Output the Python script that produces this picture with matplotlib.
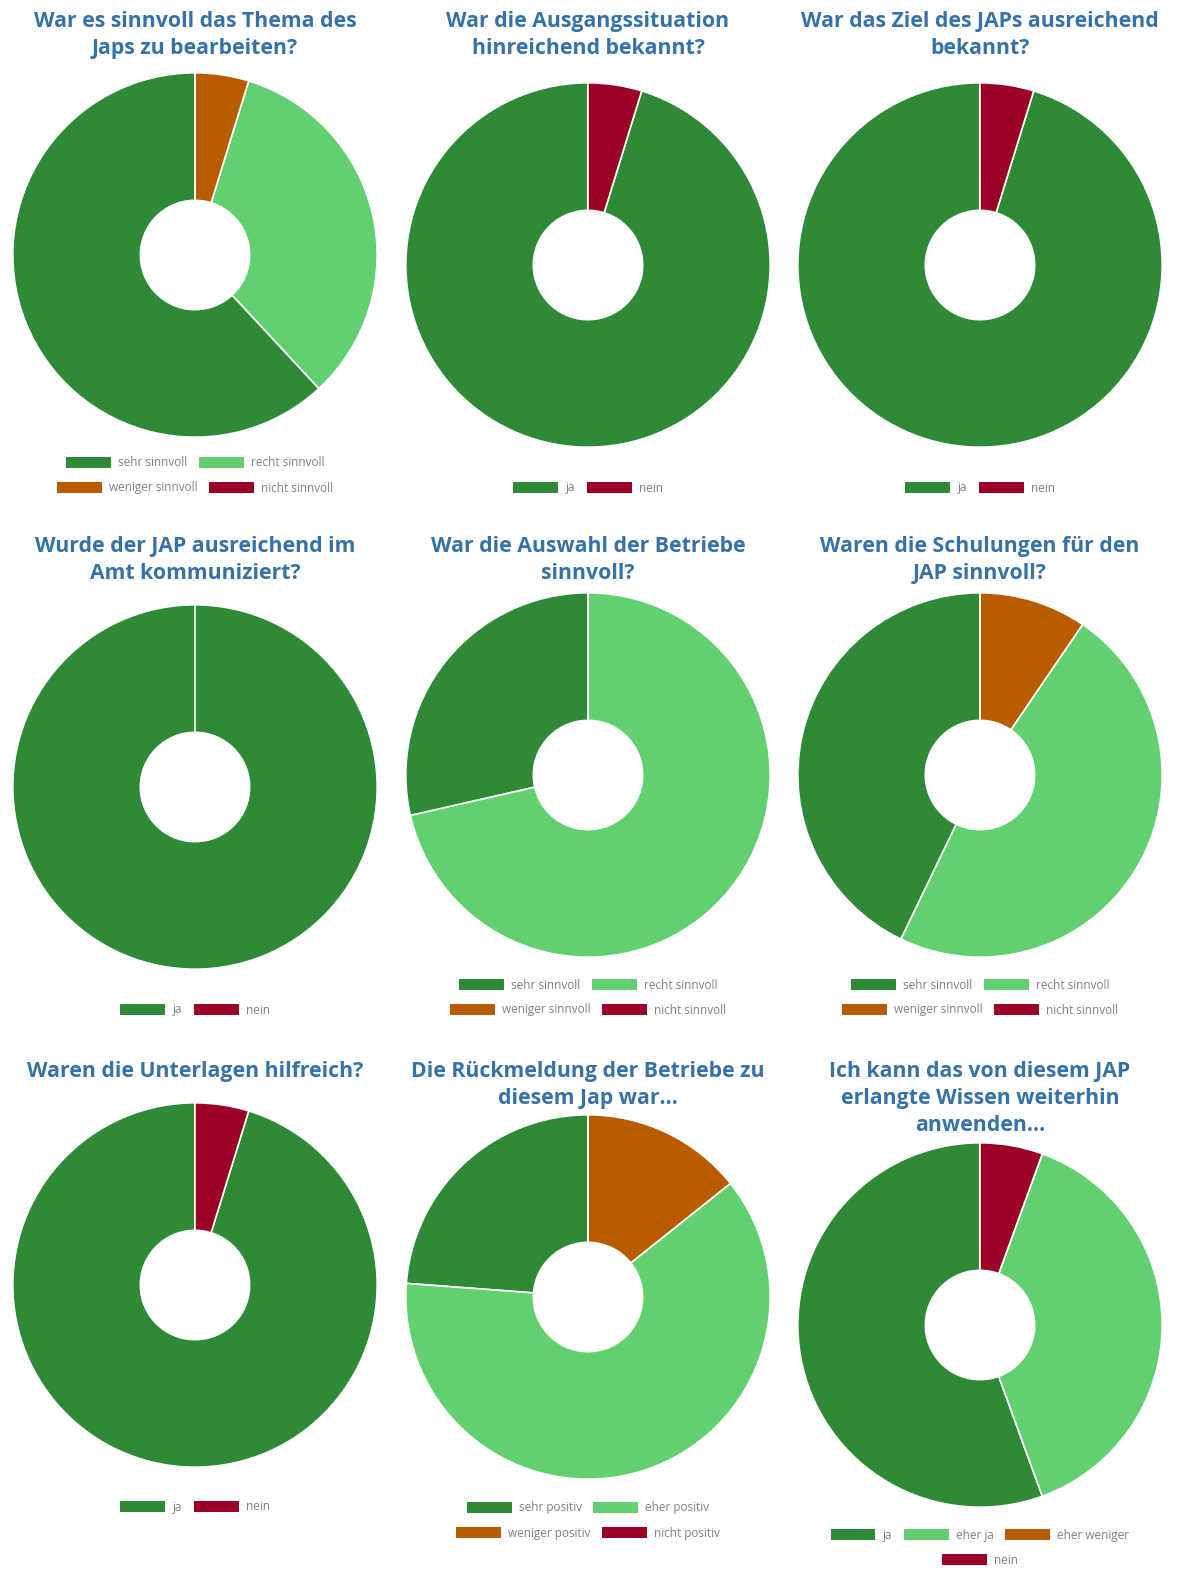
import matplotlib.pyplot as plt
from matplotlib.patches import Patch

# colours used in the survey charts
DARK = '#2f8a37'
LIGHT = '#62cf70'
ORANGE = '#b95c00'
RED = '#9b0026'

titles = [
    'War es sinnvoll das Thema des\nJaps zu bearbeiten?',
    'War die Ausgangssituation\nhinreichend bekannt?',
    'War das Ziel des JAPs ausreichend\nbekannt?',
    'Wurde der JAP ausreichend im\nAmt kommuniziert?',
    'War die Auswahl der Betriebe\nsinnvoll?',
    'Waren die Schulungen für den\nJAP sinnvoll?',
    'Waren die Unterlagen hilfreich?',
    'Die Rückmeldung der Betriebe zu\ndiesem Jap war...',
    'Ich kann das von diesem JAP\nerlangte Wissen weiterhin\nanwenden...',
]

labels_sinnvoll = ['sehr sinnvoll', 'recht sinnvoll', 'weniger sinnvoll', 'nicht sinnvoll']
labels_janein = ['ja', 'nein']
labels_positiv = ['sehr positiv', 'eher positiv', 'weniger positiv', 'nicht positiv']
labels_ja4 = ['ja', 'eher ja', 'eher weniger', 'nein']

colors4 = [DARK, LIGHT, ORANGE, RED]
colors2 = [DARK, RED]

# answer counts per question
thema = [13, 7, 1, 0]
ausgang = [20, 1]
ziel = [20, 1]
kommuniziert = [21, 0]
auswahl = [6, 15, 0, 0]
schulungen = [9, 10, 2, 0]
unterlagen = [20, 1]
rueckmeldung = [5, 13, 3, 0]
wissen = [10, 7, 0, 1]

charts = [
    (thema, labels_sinnvoll, colors4),
    (ausgang, labels_janein, colors2),
    (ziel, labels_janein, colors2),
    (kommuniziert, labels_janein, colors2),
    (auswahl, labels_sinnvoll, colors4),
    (schulungen, labels_sinnvoll, colors4),
    (unterlagen, labels_janein, colors2),
    (rueckmeldung, labels_positiv, colors4),
    (wissen, labels_ja4, colors4),
]

# layout in pixels: pie centre x, centre y, title top y, legend row y's, legend row split
layout = [
    (195, 255, 11, [463, 488], [2, 2]),
    (588, 265, 11, [488], [2]),
    (980, 265, 11, [488], [2]),
    (195, 787, 536, [1010], [2]),
    (588, 775, 536, [985, 1010], [2, 2]),
    (980, 775, 536, [985, 1010], [2, 2]),
    (195, 1285, 1061, [1507], [2]),
    (588, 1297, 1061, [1508, 1533], [2, 2]),
    (980, 1325, 1061, [1535, 1560], [3, 1]),
]

W, H = 1179, 1574
R = 184

fig = plt.figure(figsize=(W / 100, H / 100), dpi=100)

for (vals, labels, cols), (cx, cy, ty, leg_y, split), title in zip(charts, layout, titles):
    ax = fig.add_axes([(cx - R) / W, 1 - (cy + R) / H, 2 * R / W, 2 * R / H])
    ax.pie(vals, colors=cols, startangle=90, counterclock=True, radius=1,
           wedgeprops=dict(width=0.70, edgecolor='white', linewidth=1.2))
    ax.set_xlim(-1.01, 1.01)
    ax.set_ylim(-1.01, 1.01)
    ax.set_aspect('equal')
    ax.axis('off')

    fig.text(cx / W, 1 - ty / H, title, ha='center', va='top', fontsize=15.3,
             fontweight='bold', color='#3671a8', family='Open Sans', linespacing=1.36)

    start = 0
    for n, yy in zip(split, leg_y):
        handles = [Patch(facecolor=c, edgecolor='none') for c in cols[start:start + n]]
        leg = fig.legend(handles, labels[start:start + n], loc='center',
                         bbox_to_anchor=(cx / W, 1 - yy / H), ncol=n, frameon=False,
                         handlelength=3.8, handleheight=1.15,
                         handletextpad=0.6, columnspacing=1.0, borderpad=0,
                         prop={'family': 'Open Sans', 'size': 8.5})
        for t in leg.get_texts():
            t.set_color('#808080')
        start += n

fig.savefig('out.png', dpi=100, facecolor='white')
